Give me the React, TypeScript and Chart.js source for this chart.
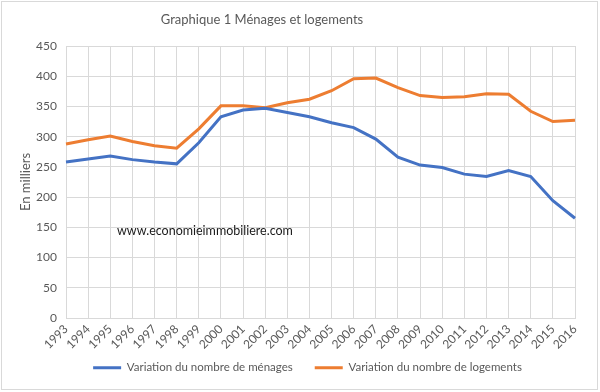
import React, { useEffect, useRef } from "react";
import { Chart, registerables } from "chart.js";

Chart.register(...registerables);

const chartTitle = "Graphique 1 Ménages et logements";
const years = ["1993","1994","1995","1996","1997","1998","1999","2000","2001","2002","2003","2004","2005","2006","2007","2008","2009","2010","2011","2012","2013","2014","2015","2016"];
const menages = [258,263,268,262,258,255,290,333,344,347,340,333,323,315,296,266,253,249,238,234,244,234,194,165];
const logements = [288,295,301,292,285,281,313,351,351,348,356,362,376,396,397,381,368,365,366,371,370,342,325,327];
const yTicks = [0,50,100,150,200,250,300,350,400,450];

const FONT = "Lato, 'Open Sans', sans-serif";
const GREY = "#595959";

const extras = {
  id: "extras",
  afterLayout(chart: any) {
    if (chart.legend) {
      chart.legend.top -= 13;
      chart.legend.bottom -= 13;
      chart.legend.left += 15;
      chart.legend.right += 15;
    }
  },
  afterDraw(chart: any) {
    const { ctx } = chart;
    ctx.save();
    ctx.font = `13px ${FONT}`;
    ctx.fillStyle = GREY;
    ctx.textBaseline = "middle";
    ctx.textAlign = "center";
    ctx.fillText(chartTitle, 262, 20);
    ctx.restore();
  },
  afterDatasetsDraw(chart: any) {
    const { ctx, chartArea } = chart;
    ctx.save();
    ctx.font = `12.5px ${FONT}`;
    ctx.fillStyle = "#1a1a1a";
    ctx.textBaseline = "middle";
    ctx.textAlign = "left";
    ctx.fillText("www.economieimmobiliere.com", chartArea.left + 51, chartArea.top + 185);
    ctx.restore();
  },
};

export default function App() {
  const ref = useRef<HTMLCanvasElement>(null);
  useEffect(() => {
    document.body.style.margin = "0";
    const chart = new Chart(ref.current!, {
      type: "line",
      data: {
        labels: years,
        datasets: [
          { label: "Variation du nombre de ménages", data: menages, borderColor: "#4472C4", backgroundColor: "#4472C4", borderWidth: 3, pointRadius: 0, tension: 0 },
          { label: "Variation du nombre de logements", data: logements, borderColor: "#ED7D31", backgroundColor: "#ED7D31", borderWidth: 3, pointRadius: 0, tension: 0 },
        ],
      },
      options: {
        animation: false,
        responsive: false,
        layout: { padding: { left: 10, right: 25, top: 46, bottom: 4 } },
        plugins: {
          title: { display: false },
          legend: {
            position: "bottom",
            maxHeight: 35,
            labels: {
              usePointStyle: true,
              pointStyle: "line",
              pointStyleWidth: 28,
              boxWidth: 28,
              color: GREY,
              font: { family: FONT, size: 11.5 },
              padding: 22,
            },
          },
          tooltip: { enabled: false },
        },
        scales: {
          x: {
            offset: false,
            grid: { color: "#d9d9d9", drawTicks: false },
            border: { color: "#d9d9d9" },
            ticks: { color: GREY, font: { family: FONT, size: 12 }, maxRotation: 45, minRotation: 45, autoSkip: false, padding: 4 },
            afterFit(scale: any) { scale.height = 35; },
          },
          y: {
            min: 0,
            max: 450,
            afterBuildTicks(scale: any) { scale.ticks = yTicks.map((v) => ({ value: v })); },
            grid: { color: "#d9d9d9", drawTicks: false },
            border: { display: false },
            ticks: { color: GREY, font: { family: FONT, size: 12 }, padding: 9 },
            title: { display: true, text: "En milliers", color: GREY, font: { family: FONT, size: 13 }, padding: { top: 8, bottom: 4 } },
            afterFit(scale: any) { scale.width = 56; },
          },
        },
      },
      plugins: [extras],
    });
    return () => chart.destroy();
  }, []);
  return (
    <div style={{ position: "relative", width: 600, height: 392, background: "#fff" }}>
      <canvas ref={ref} width={600} height={392} />
      <div style={{ position: "absolute", left: 1, top: 1, width: 595, height: 387, border: "1px solid #d9d9d9", pointerEvents: "none" }} />
    </div>
  );
}
